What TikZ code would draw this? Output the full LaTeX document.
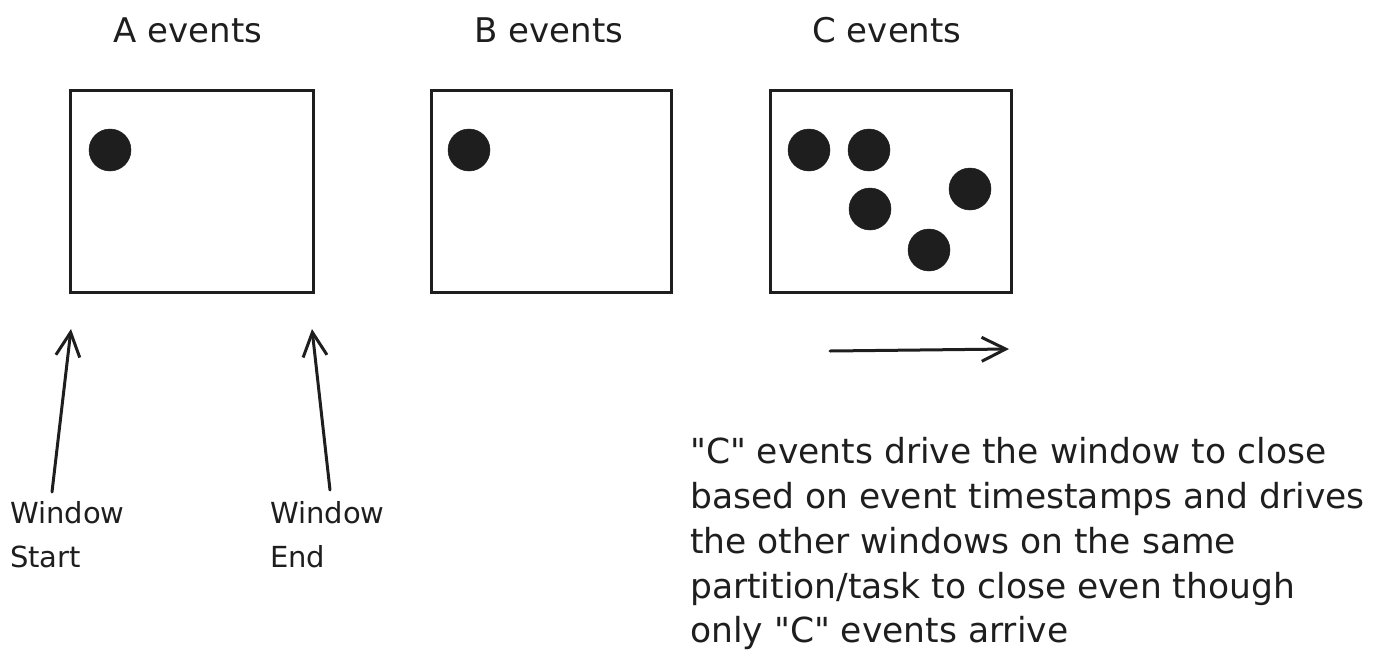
\documentclass[tikz,border=0pt]{standalone}
\usepackage{fontspec}
\newfontfamily\dv{DejaVu Sans}
\usetikzlibrary{arrows.meta}
\definecolor{ink}{HTML}{1E1E1E}
\tikzset{
  win/.style={draw=ink, line width=3.2pt, minimum width=#1, minimum height=202pt, inner sep=0pt, anchor=north west},
  ev/.style={circle, fill=ink, draw=ink, line width=0.5pt, minimum size=42pt, inner sep=0pt},
  title/.style={font=\dv\fontsize{34}{40}\selectfont, text=ink, anchor=base, inner sep=0pt},
  body/.style={font=\dv\fontsize{34.5}{40}\selectfont, text=ink, anchor=base west, inner sep=0pt},
  lab/.style={font=\dv\fontsize{29}{34}\selectfont, text=ink, anchor=base west, inner sep=0pt},
  arr/.style={draw=ink, line width=3pt, line cap=round, -{Straight Barb[length=24pt,width=24pt,line width=3pt]}},
}
\begin{document}
\begin{tikzpicture}[x=1pt,y=-1pt]
\useasboundingbox (0,0) rectangle (1382,665);
% titles
\node[title] (ta) at (188,42) {A events};
\node[title] (tb) at (549,42) {B events};
\node[title] (tc) at (887,42) {C events};
% windows
\node[win=243pt] (boxA) at (69,89) {};
\node[win=240pt] (boxB) at (430,89) {};
\node[win=241pt] (boxC) at (769,89) {};
% events
\node[ev] (a1) at (110,150) {};
\node[ev] (b1) at (469,150) {};
\node[ev] (c1) at (809,150) {};
\node[ev] (c2) at (869,150) {};
\node[ev] (c3) at (870,209) {};
\node[ev] (c4) at (970,189) {};
\node[ev] (c5) at (929,250) {};
% window start / end
\node[lab] (ws1) at (10,523) {Window};
\node[lab] (ws2) at (10,567) {Start};
\node[lab] (we1) at (270,523) {Window};
\node[lab] (we2) at (270,567) {End};
\coordinate (sFrom) at (52,492);
\coordinate (sTo) at (71,329);
\coordinate (eFrom) at (330,490);
\coordinate (eTo) at (312,329);
\draw[arr] (sFrom) -- (sTo);
\draw[arr] (eFrom) -- (eTo);
% time arrow
\coordinate (tFrom) at (830,351);
\coordinate (tTo) at (1009,349);
\draw[arr] (tFrom) -- (tTo);
% explanation
\node[body] (t1) at (690,463) {"C" events drive the window to close};
\node[body] (t2) at (690,508) {based on event timestamps and drives};
\node[body] (t3) at (690,553) {the other windows on the same};
\node[body] (t4) at (690,598) {partition/task to close even though};
\node[body] (t5) at (690,642) {only "C" events arrive};
\end{tikzpicture}
\end{document}
